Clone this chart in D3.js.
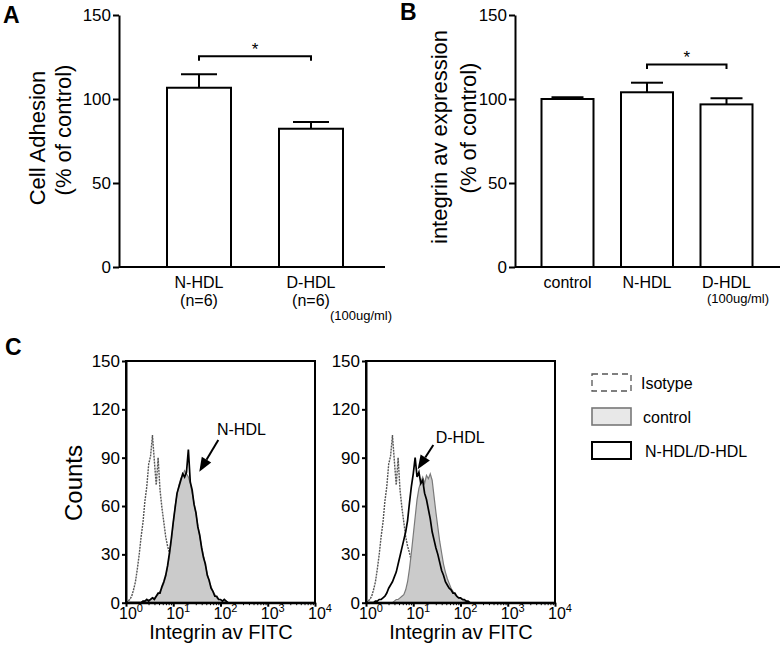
<!DOCTYPE html>
<html>
<head>
<meta charset="utf-8">
<script src="https://cdnjs.cloudflare.com/ajax/libs/d3/7.8.5/d3.min.js"></script>
<style>
  body { margin: 0; background: #fff; }
  svg { display: block; }
</style>
</head>
<body>
<div id="figure"></div>
<script>
// ---- data ----
var adhesionGroups = ['N-HDL', 'D-HDL'];
var adhesionSub = ['(n=6)', '(n=6)'];
var adhesionMean = [106.7, 82.3];
var adhesionErr = [8, 4];
var adhesionSig = [0, 1, 125.4];          // from group, to group, bracket level

var expressionGroups = ['control', 'N-HDL', 'D-HDL'];
var expressionMean = [100, 104, 96.8];
var expressionErr = [1, 5.7, 3.6];
var expressionSig = [1, 2, 120.6];

var barTicks = [0, 50, 100, 150];
var countTicks = [0, 30, 60, 90, 120, 150];
var decadeTicks = [1, 10, 100, 1000, 10000];
var decadeExp = ['0', '1', '2', '3', '4'];

// flow histograms, one channel every 0.04 log10 units starting at 10^0
var binStep = 0.04;
var isotypeCounts = [0, 1, 2, 4, 8, 13, 21, 30, 41, 50,
  63, 72, 86, 91, 104, 88, 73, 90, 70, 59,
  50, 41, 35, 31, 26, 21, 16, 12, 9, 6,
  4, 3, 2, 1, 0];
var controlLeftCounts = [0, 0, 0, 0, 0, 0, 0, 0, 0, 1,
  1, 1, 2, 2, 3, 3, 4, 5, 7, 9,
  12, 16, 22, 29, 38, 49, 60, 67, 73, 77,
  79, 82, 80, 78, 74, 68, 62, 55, 48, 41,
  35, 29, 23, 18, 13, 10, 7, 5, 3, 2,
  2, 1, 1, 1, 0];
var nhdlCounts = [0, 0, 0, 0, 0, 0, 0, 0, 0, 1,
  1, 2, 1, 2, 3, 2, 4, 6, 6, 10,
  13, 17, 23, 31, 40, 50, 59, 68, 72, 76,
  80, 78, 81, 95, 75, 70, 61, 56, 47, 42,
  34, 28, 24, 17, 14, 9, 7, 4, 4, 2,
  2, 1, 2, 1, 0];
var controlRightCounts = [0, 0, 0, 0, 0, 0, 0, 0, 0, 0,
  0, 0, 0, 0, 0, 1, 2, 2, 3, 4,
  5, 8, 13, 21, 31, 42, 53, 64, 71, 75,
  78, 74, 79, 77, 80, 76, 66, 56, 47, 38,
  31, 24, 19, 15, 12, 9, 7, 5, 4, 3,
  3, 2, 1, 1, 0];
var dhdlCounts = [0, 0, 0, 0, 0, 1, 1, 2, 2, 3,
  4, 6, 9, 11, 13, 16, 19, 24, 29, 34,
  39, 44, 51, 62, 72, 80, 90, 78, 81, 74,
  76, 68, 64, 58, 52, 44, 39, 34, 30, 25,
  20, 17, 13, 11, 9, 8, 6, 6, 4, 3,
  3, 2, 2, 1, 1, 0];

var legendLabels = ['Isotype', 'control', 'N-HDL/D-HDL'];

// ---- drawing ----
var FONT = '"Liberation Sans", Arial, Helvetica, sans-serif';
var svg = d3.select('#figure').append('svg')
    .attr('width', 783).attr('height', 654)
    .attr('font-family', FONT);

function styleAxis(g, size) {
  g.attr('font-family', FONT).attr('font-size', size);
  g.selectAll('path, line').attr('stroke', '#000').attr('stroke-width', 2);
  g.selectAll('text').attr('fill', '#000');
}

function barPanel(cfg) {
  var g = svg.append('g');
  var y = d3.scaleLinear().domain([0, 150]).range([267, 15]);
  var x = d3.scalePoint().domain(cfg.groups).range(cfg.centers);

  g.append('g')
      .attr('transform', 'translate(' + cfg.left + ',0)')
      .call(d3.axisLeft(y).tickValues(barTicks).tickSize(6).tickSizeOuter(0).tickPadding(2))
      .call(styleAxis, 17);

  g.append('line')
      .attr('x1', cfg.left).attr('x2', cfg.right)
      .attr('y1', y(0)).attr('y2', y(0))
      .attr('stroke', '#000').attr('stroke-width', 2);

  // error bars first so the bar outline sits on top
  cfg.groups.forEach(function (d, i) {
    var cx = x(d), top = y(cfg.mean[i] + cfg.err[i]);
    g.append('line').attr('x1', cx).attr('x2', cx)
        .attr('y1', y(cfg.mean[i])).attr('y2', top)
        .attr('stroke', '#000').attr('stroke-width', 2);
    g.append('line').attr('x1', cx - cfg.cap).attr('x2', cx + cfg.cap)
        .attr('y1', top).attr('y2', top)
        .attr('stroke', '#000').attr('stroke-width', 2);
  });

  g.selectAll('rect.bar')
      .data(cfg.groups)
      .enter()
      .append('rect')
      .attr('class', 'bar')
      .attr('x', function (d) { return x(d) - cfg.barWidth / 2; })
      .attr('y', function (d, i) { return y(cfg.mean[i]); })
      .attr('width', cfg.barWidth)
      .attr('height', function (d, i) { return y(0) - y(cfg.mean[i]); })
      .attr('fill', '#fff')
      .attr('stroke', '#000')
      .attr('stroke-width', 2);

  g.selectAll('text.cat')
      .data(cfg.groups)
      .enter()
      .append('text')
      .attr('class', 'cat')
      .attr('x', function (d) { return x(d); })
      .attr('y', 288)
      .attr('text-anchor', 'middle')
      .attr('font-size', 16)
      .text(function (d) { return d; });

  if (cfg.sub) {
    g.selectAll('text.sub')
        .data(cfg.sub)
        .enter()
        .append('text')
        .attr('class', 'sub')
        .attr('x', function (d, i) { return x(cfg.groups[i]); })
        .attr('y', 306)
        .attr('text-anchor', 'middle')
        .attr('font-size', 16)
        .text(function (d) { return d; });
  }

  g.append('text')
      .attr('x', cfg.doseX).attr('y', cfg.doseY)
      .attr('text-anchor', 'middle')
      .attr('font-size', 13)
      .text('(100ug/ml)');

  // significance bracket
  var bx1 = x(cfg.groups[cfg.sig[0]]), bx2 = x(cfg.groups[cfg.sig[1]]), by = y(cfg.sig[2]);
  g.append('path')
      .attr('d', 'M' + bx1 + ',' + (by + 4.5) + 'V' + by + 'H' + bx2 + 'V' + (by + 4.5))
      .attr('fill', 'none').attr('stroke', '#000').attr('stroke-width', 2);
  g.append('text')
      .attr('x', (bx1 + bx2) / 2).attr('y', by - 1.5)
      .attr('text-anchor', 'middle')
      .attr('font-size', 17)
      .text('*');

  cfg.title.forEach(function (t, i) {
    g.append('text')
        .attr('transform', 'translate(' + t[1] + ',' + t[2] + ') rotate(-90)')
        .attr('text-anchor', 'middle')
        .attr('font-size', 22)
        .text(t[0]);
  });

  g.append('text')
      .attr('x', cfg.letter[0]).attr('y', cfg.letter[1])
      .attr('font-size', 23).attr('font-weight', 'bold')
      .text(cfg.letter[2]);
}

barPanel({
  groups: adhesionGroups, sub: adhesionSub, mean: adhesionMean, err: adhesionErr, sig: adhesionSig,
  left: 119, right: 385, centers: [199, 311], barWidth: 64, cap: 18,
  doseX: 361, doseY: 320,
  title: [['Cell Adhesion', 45, 138], ['(% of control)', 71, 130]],
  letter: [3, 23, 'A']
});

barPanel({
  groups: expressionGroups, mean: expressionMean, err: expressionErr, sig: expressionSig,
  left: 515, right: 780, centers: [567.5, 726.5], barWidth: 52, cap: 16,
  doseX: 738, doseY: 303,
  title: [['integrin av expression', 447, 137], ['(% of control)', 476, 128]],
  letter: [400, 20, 'B']
});

function histPanel(cfg) {
  var g = svg.append('g');
  var x = d3.scaleLog().domain([1, 10000]).range([cfg.left, cfg.left + 189]);
  var y = d3.scaleLinear().domain([0, 150]).range([602.7, 361]);
  var chan = function (d, i) { return x(Math.pow(10, i * binStep)); };

  var line = d3.line().x(chan).y(function (d) { return y(d); });
  var area = d3.area().x(chan).y0(y(0)).y1(function (d) { return y(d); });

  g.append('path').datum(isotypeCounts)
      .attr('d', line)
      .attr('fill', 'none').attr('stroke', '#555')
      .attr('stroke-width', 1.4).attr('stroke-dasharray', '2,1');

  g.append('path').datum(cfg.control)
      .attr('d', area)
      .attr('fill', '#cbcbcb');
  g.append('path').datum(cfg.control)
      .attr('d', line)
      .attr('fill', 'none').attr('stroke', '#7a7a7a').attr('stroke-width', 1.2);

  g.append('path').datum(cfg.treated)
      .attr('d', line)
      .attr('fill', 'none').attr('stroke', '#000').attr('stroke-width', 1.7);

  g.append('rect')
      .attr('x', cfg.left).attr('y', y(150))
      .attr('width', 189).attr('height', y(0) - y(150))
      .attr('fill', 'none').attr('stroke', '#000').attr('stroke-width', 2);

  g.append('g')
      .attr('transform', 'translate(' + cfg.left + ',0)')
      .call(d3.axisLeft(y).tickValues(countTicks).tickSize(4).tickSizeOuter(0).tickPadding(2))
      .call(styleAxis, 17);

  var minor = [];
  decadeTicks.slice(0, 4).forEach(function (d) {
    for (var k = 2; k < 10; k++) minor.push(d * k);
  });
  g.append('g')
      .attr('transform', 'translate(0,' + y(0) + ')')
      .call(d3.axisBottom(x).tickValues(minor).tickSize(2.5).tickFormat(''))
      .call(styleAxis, 16)
      .call(function (a) { a.selectAll('line').attr('stroke-width', 1); a.select('.domain').remove(); });
  g.append('g')
      .attr('transform', 'translate(0,' + y(0) + ')')
      .call(d3.axisBottom(x).tickValues(decadeTicks).tickSize(4).tickSizeOuter(0).tickFormat(''))
      .call(styleAxis, 16);

  var lab = g.selectAll('text.dec')
      .data(decadeTicks)
      .enter()
      .append('text')
      .attr('class', 'dec')
      .attr('x', function (d) { return x(d) + 5; })
      .attr('y', 619)
      .attr('text-anchor', 'middle')
      .attr('font-size', 16);
  lab.append('tspan').text('10');
  lab.append('tspan')
      .attr('dy', -7).attr('font-size', 11)
      .text(function (d, i) { return decadeExp[i]; });

  g.append('text')
      .attr('x', cfg.left + 95).attr('y', 639)
      .attr('text-anchor', 'middle')
      .attr('font-size', 20)
      .text('Integrin av FITC');

  // arrow annotation
  var tx = x(cfg.arrow[0]), ty = y(cfg.arrow[1]);
  var sx = x(cfg.arrow[2]), sy = y(cfg.arrow[3]);
  var ang = Math.atan2(ty - sy, tx - sx);
  var hl = 14, hw = 5.5;
  var bx = tx - hl * Math.cos(ang), by = ty - hl * Math.sin(ang);
  g.append('line')
      .attr('x1', sx).attr('y1', sy).attr('x2', bx).attr('y2', by)
      .attr('stroke', '#000').attr('stroke-width', 2);
  g.append('path')
      .attr('d', 'M' + tx + ',' + ty +
        'L' + (bx + hw * Math.sin(ang)) + ',' + (by - hw * Math.cos(ang)) +
        'L' + (bx - hw * Math.sin(ang)) + ',' + (by + hw * Math.cos(ang)) + 'Z')
      .attr('fill', '#000');
  g.append('text')
      .attr('x', x(cfg.label[0])).attr('y', y(cfg.label[1]))
      .attr('font-size', 16)
      .text(cfg.label[2]);
}

histPanel({
  left: 126, control: controlLeftCounts, treated: nhdlCounts,
  arrow: [35.6, 81.3, 89.8, 101], label: [84.3, 104, 'N-HDL']
});
histPanel({
  left: 366, control: controlRightCounts, treated: dhdlCounts,
  arrow: [12.4, 82.8, 26.6, 97.9], label: [29.9, 99.1, 'D-HDL']
});

svg.append('text')
    .attr('transform', 'translate(82,483) rotate(-90)')
    .attr('text-anchor', 'middle')
    .attr('font-size', 24)
    .text('Counts');

svg.append('text')
    .attr('x', 5).attr('y', 355)
    .attr('font-size', 23).attr('font-weight', 'bold')
    .text('C');

// legend
var legend = svg.append('g').attr('transform', 'translate(592,374)');
var legY = d3.scalePoint().domain(legendLabels).range([0, 68]);
legendLabels.forEach(function (d, i) {
  var r = legend.append('rect')
      .attr('x', 0).attr('y', legY(d))
      .attr('width', 39).attr('height', 17);
  if (i === 0) r.attr('fill', '#fff').attr('stroke', '#555').attr('stroke-width', 1.3).attr('stroke-dasharray', '6,4');
  if (i === 1) r.attr('fill', '#e8e8e8').attr('stroke', '#777').attr('stroke-width', 1.6);
  if (i === 2) r.attr('fill', '#fff').attr('stroke', '#000').attr('stroke-width', 2);
  legend.append('text')
      .attr('x', 49 + i * 2).attr('y', legY(d) + 15)
      .attr('font-size', 16)
      .text(d);
});
</script>
</body>
</html>
